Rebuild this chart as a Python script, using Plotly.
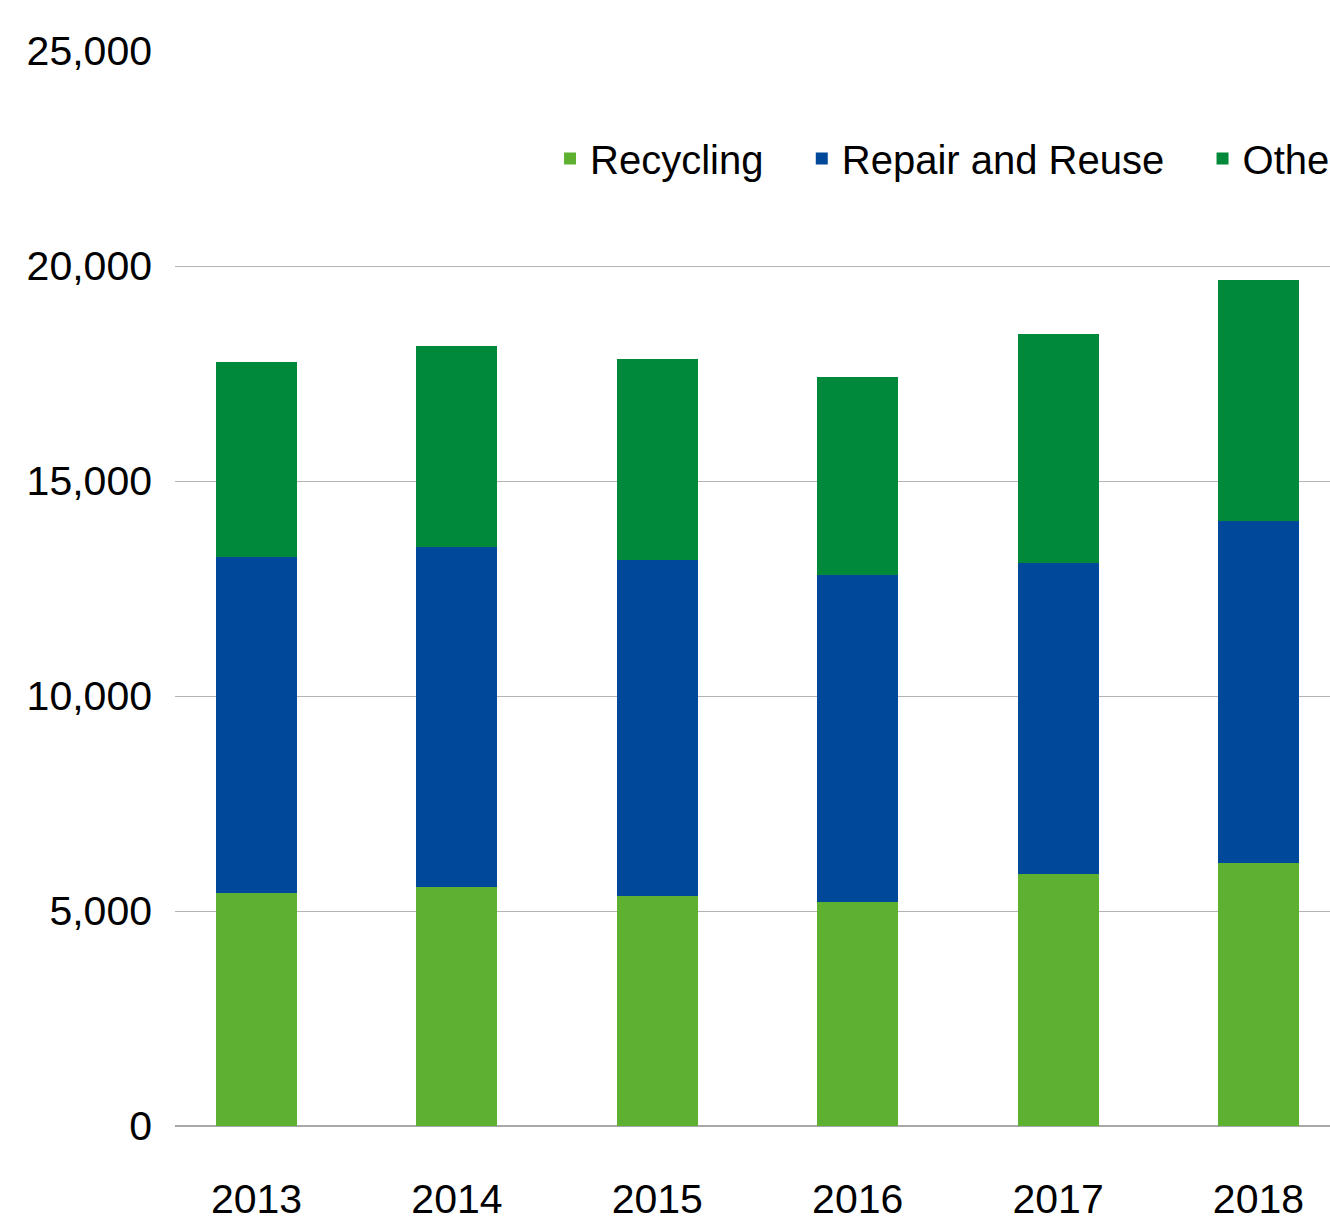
import plotly.graph_objects as go

years = ["2013", "2014", "2015", "2016", "2017", "2018"]
recycling = [5410, 5550, 5340, 5200, 5860, 6110]
repair_reuse = [7830, 7920, 7830, 7620, 7240, 7970]
other = [4520, 4660, 4660, 4600, 5310, 5590]

y_ticks = [0, 5000, 10000, 15000, 20000, 25000]
y_tick_labels = ["0", "5,000", "10,000", "15,000", "20,000", "25,000"]

FONT = "Liberation Sans, Arial, Helvetica, sans-serif"
FS = 41
LEG_FS = 40
PAD = "\u00a0\u00a0\u00a0"  # extra spacing between legend entries

fig = go.Figure()
fig.add_trace(go.Bar(x=years, y=recycling, name="Recycling" + PAD,
                     marker=dict(color="#5EB031", line=dict(width=0))))
fig.add_trace(go.Bar(x=years, y=repair_reuse, name="Repair and Reuse" + PAD,
                     marker=dict(color="#004899", line=dict(width=0))))
fig.add_trace(go.Bar(x=years, y=other, name="Other",
                     marker=dict(color="#00893A", line=dict(width=0))))

fig.update_layout(
    width=1330, height=1221,
    barmode="stack",
    bargap=0.596,
    paper_bgcolor="white",
    plot_bgcolor="white",
    font=dict(family=FONT, size=FS, color="black"),
    margin=dict(l=175, r=0, t=51, b=95, autoexpand=False),
    showlegend=True,
    legend=dict(
        orientation="h",
        x=0.3247, xanchor="left",
        y=0.90, yanchor="middle",
        font=dict(family=FONT, size=LEG_FS, color="black"),
        bgcolor="rgba(0,0,0,0)",
        traceorder="normal",
    ),
    xaxis=dict(
        type="category",
        range=[-0.407, 5.357],
        showgrid=False,
        showline=False,
        zeroline=False,
        ticks="",
        tickfont=dict(family=FONT, size=FS, color="black"),
        ticklabelstandoff=45,
    ),
    yaxis=dict(
        range=[0, 25000],
        tickvals=y_ticks,
        ticktext=y_tick_labels,
        showgrid=True,
        gridcolor="#B3B3B3",
        gridwidth=1.3,
        zeroline=True,
        zerolinecolor="#A8A8A8",
        zerolinewidth=1.5,
        showline=False,
        ticks="",
        tickfont=dict(family=FONT, size=FS, color="black"),
        ticklabelstandoff=22,
    ),
)

# remove the default page margin so the figure fills the window exactly
fig.write_html(
    "out.html",
    config={"displayModeBar": False},
    post_script="document.body.style.margin='0';"
                "document.body.style.overflow='hidden';"
                "document.documentElement.style.overflow='hidden';",
)
